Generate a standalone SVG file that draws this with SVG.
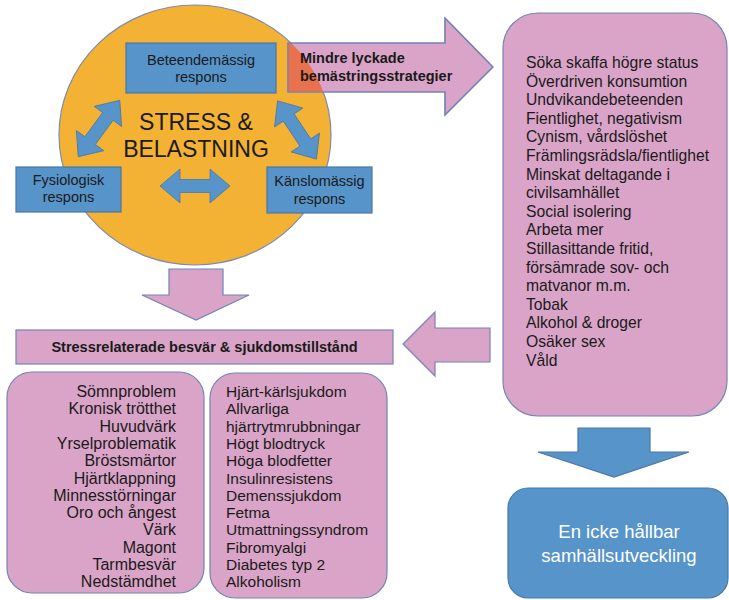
<svg xmlns="http://www.w3.org/2000/svg" xmlns:xlink="http://www.w3.org/1999/xlink" width="729" height="600" viewBox="0 0 729 600">
<style>
text{font-family:"Liberation Sans",Arial,sans-serif;fill:#1a1a1a}
.pink{fill:#D9A4C7;stroke:#7384B5;stroke-width:1.2}
.blue{fill:#5794C9;stroke:#4A76A8;stroke-width:1.2}
.dbl{fill:#5794C9;stroke:#4A76A8;stroke-width:0.8}
.box{font-size:14.5px;text-anchor:middle}
.lst{font-size:15.7px}
.lst2{font-size:15.5px}
.lst3{font-size:16px}
.bold{font-weight:bold}
</style>
<defs>
<polygon id="dblarrow" points="-35,0 -15,-17 -15,-6.5 15,-6.5 15,-17 35,0 15,17 15,6.5 -15,6.5 -15,17"/>
<clipPath id="circClip"><ellipse cx="195" cy="135" rx="136" ry="130"/></clipPath>
</defs>
<rect width="729" height="600" fill="#ffffff"/>

<g id="stress">
<ellipse cx="195" cy="135" rx="136" ry="130" fill="#F3B234" stroke="#7E8AAE" stroke-width="1.2"/>
<text x="196" y="130" font-size="23" text-anchor="middle">STRESS &amp;</text>
<text x="196" y="157" font-size="23" text-anchor="middle">BELASTNING</text>
</g>

<g id="beteende">
<rect class="blue" x="126" y="43" width="150" height="50"/>
<text class="box" x="201" y="65">Beteendemässig</text>
<text class="box" x="201" y="82">respons</text>
</g>
<g id="fysiologisk">
<rect class="blue" x="16" y="167" width="105" height="45"/>
<text class="box" x="68.5" y="185">Fysiologisk</text>
<text class="box" x="68.5" y="202">respons</text>
</g>
<g id="kanslo">
<rect class="blue" x="267" y="167" width="105" height="46"/>
<text class="box" x="319.5" y="186">Känslomässig</text>
<text class="box" x="319.5" y="204">respons</text>
</g>

<g id="connectors">
<use xlink:href="#dblarrow" class="dbl" transform="translate(99,128.5) rotate(-53.6)"/>
<use xlink:href="#dblarrow" class="dbl" transform="translate(297,130) rotate(56.3)"/>
<use xlink:href="#dblarrow" class="dbl" transform="translate(195,186)"/>
<g id="mindre-arrow">
<polygon class="pink" points="288,43 445,43 445,18 493,67 445,115 445,92 288,92"/>
<polygon points="288,43 445,43 445,18 493,67 445,115 445,92 288,92" fill="#E8714E" clip-path="url(#circClip)"/>
<polygon points="288,43 445,43 445,18 493,67 445,115 445,92 288,92" fill="none" stroke="#7384B5" stroke-width="1.2"/>
<text class="bold" x="300" y="63" font-size="14.5">Mindre lyckade</text>
<text class="bold" x="300" y="81" font-size="14.5">bemästringsstrategier</text>
</g>
<polygon class="pink" points="169,269 223,269 223,295 249,295 196,320 142,295 169,295"/>
<polygon class="pink" points="490,328 435,328 435,312 403,344 435,376 435,362 490,362"/>
<polygon class="blue" points="578,428 650,428 650,452 689,452 614,477 538,452 578,452"/>
</g>

<g id="strategier">
<rect class="pink" x="503" y="13" width="224" height="403" rx="35" ry="35"/>
<g class="lst">
<text x="526" y="68">Söka skaffa högre status</text>
<text x="526" y="86.6">Överdriven konsumtion</text>
<text x="526" y="105.2">Undvikandebeteenden</text>
<text x="526" y="123.8">Fientlighet, negativism</text>
<text x="526" y="142.4">Cynism, vårdslöshet</text>
<text x="526" y="161">Främlingsrädsla/fientlighet</text>
<text x="526" y="179.6">Minskat deltagande i</text>
<text x="526" y="198.2">civilsamhället</text>
<text x="526" y="216.8">Social isolering</text>
<text x="526" y="235.4">Arbeta mer</text>
<text x="526" y="254">Stillasittande fritid,</text>
<text x="526" y="272.6">försämrade sov- och</text>
<text x="526" y="291.2">matvanor m.m.</text>
<text x="526" y="309.8">Tobak</text>
<text x="526" y="328.4">Alkohol &amp; droger</text>
<text x="526" y="347">Osäker sex</text>
<text x="526" y="365.6">Våld</text>
</g>
</g>

<g id="besvar-header">
<rect class="pink" x="16" y="330" width="377" height="34"/>
<text class="bold" x="204.5" y="352" font-size="14.5" text-anchor="middle">Stressrelaterade besvär &amp; sjukdomstillstånd</text>
</g>

<g id="besvar">
<rect class="pink" x="7" y="372" width="197" height="221" rx="25" ry="25"/>
<g class="lst3" text-anchor="end">
<text x="176" y="397">Sömnproblem</text>
<text x="176" y="414.3">Kronisk trötthet</text>
<text x="176" y="431.6">Huvudvärk</text>
<text x="176" y="448.9">Yrselproblematik</text>
<text x="176" y="466.2">Bröstsmärtor</text>
<text x="176" y="483.5">Hjärtklappning</text>
<text x="176" y="500.8">Minnesstörningar</text>
<text x="176" y="518.1">Oro och ångest</text>
<text x="176" y="535.4">Värk</text>
<text x="176" y="552.7">Magont</text>
<text x="176" y="570">Tarmbesvär</text>
<text x="176" y="587.3">Nedstämdhet</text>
</g>
</g>

<g id="sjukdomar">
<rect class="pink" x="210" y="373" width="177" height="225" rx="25" ry="25"/>
<g class="lst2">
<text x="226" y="397">Hjärt-kärlsjukdom</text>
<text x="226" y="414.3">Allvarliga</text>
<text x="226" y="431.6">hjärtrytmrubbningar</text>
<text x="226" y="448.9">Högt blodtryck</text>
<text x="226" y="466.2">Höga blodfetter</text>
<text x="226" y="483.5">Insulinresistens</text>
<text x="226" y="500.8">Demenssjukdom</text>
<text x="226" y="518.1">Fetma</text>
<text x="226" y="535.4">Utmattningssyndrom</text>
<text x="226" y="552.7">Fibromyalgi</text>
<text x="226" y="570">Diabetes typ 2</text>
<text x="226" y="587.3">Alkoholism</text>
</g>
</g>

<g id="samhalle">
<rect class="blue" x="508" y="488" width="220" height="110" rx="20" ry="20"/>
<text x="619" y="538" font-size="18.5" text-anchor="middle" style="fill:#ffffff">En icke hållbar</text>
<text x="619" y="562" font-size="18.5" text-anchor="middle" style="fill:#ffffff">samhällsutveckling</text>
</g>
</svg>
